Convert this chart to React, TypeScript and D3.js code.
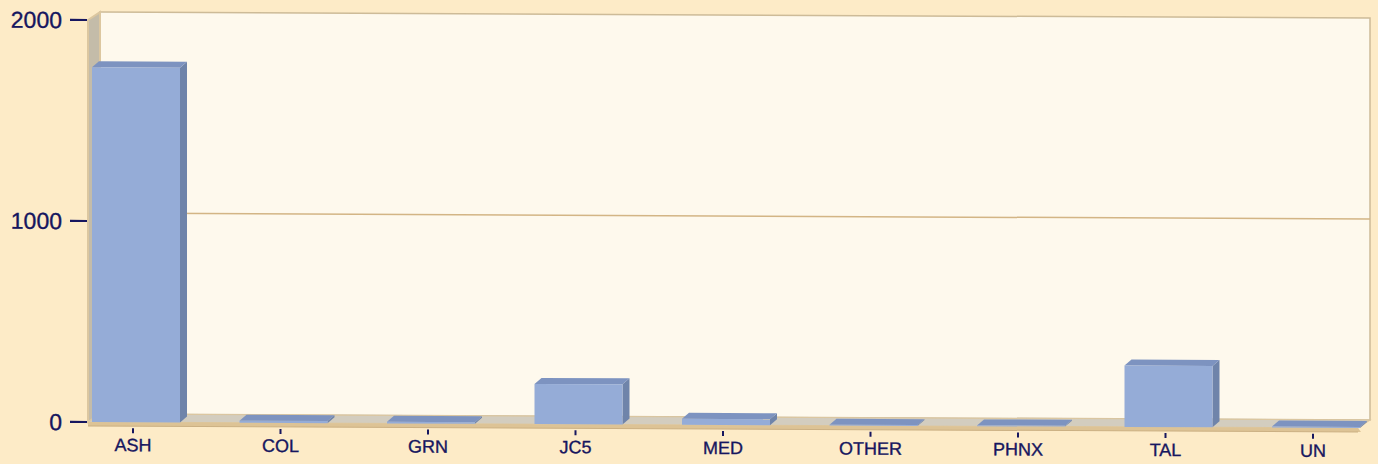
import React from 'react';
import * as d3 from 'd3';

const categories = ['ASH', 'COL', 'GRN', 'JC5', 'MED', 'OTHER', 'PHNX', 'TAL', 'UN'];
const values = [1765, 10, 8, 200, 30, 4, 4, 305, 5];
const yTicks = [0, 1000, 2000];
const gridValues = [1000];

const W = 1378;
const H = 464;

const App = () => {
  // plot box (front plane) and depth offsets
  const left = 88;
  const right = 1358;
  const top = 20;
  const base = 422;
  const wallDx = 12;
  const wallDy = 8;
  const barDx = 7;
  const barDy = 6;
  const barW = 88;
  const ink = '#16165f';

  const x = d3.scalePoint<string>().domain(categories).range([133, 1313]);
  const y = d3.scaleLinear().domain([0, 2000]).range([base, top]);

  const pts = (p: number[][]) => p.map(d => d.join(',')).join(' ');

  // slight tilt of the whole picture
  const tilt = `translate(${left},${base}) skewY(0.27) translate(${-left},${-base})`;

  return (
    <svg width={W} height={H} style={{ position: 'absolute', left: 0, top: 0, fontFamily: 'Liberation Sans, Arial, sans-serif' }}>
      <rect width={W} height={H} fill="#fdebc7" />
      <g transform={tilt}>
        {/* back wall */}
        <rect x={left + wallDx} y={top - wallDy} width={right - left} height={base - top}
          fill="#fef9ed" stroke="#cdbb98" strokeWidth={1.5} />
        {/* left side wall */}
        <polygon points={pts([[left, top], [left + wallDx, top - wallDy], [left + wallDx, base - wallDy], [left, base]])}
          fill="#c4bca9" stroke="#dcc7a0" strokeWidth={2} />
        {/* gridlines on back wall */}
        {gridValues.map(v => (
          <line key={v} x1={left + wallDx} x2={right + wallDx} y1={y(v) - wallDy} y2={y(v) - wallDy}
            stroke="#d3b585" strokeWidth={1.5} />
        ))}
        {/* floor */}
        <polygon points={pts([[left, base], [left + wallDx, base - wallDy], [right + wallDx, base - wallDy], [right, base]])}
          fill="#d3cdbf" stroke="#dcc7a0" strokeWidth={1} />
        <polygon points={pts([[left, base], [right, base], [right + 3, base + 4], [left, base + 4]])}
          fill="#ddc395" />
        <line x1={left} x2={right} y1={base + 4} y2={base + 4} stroke="#cbb083" strokeWidth={1} />
        {/* bars */}
        {categories.map((c, i) => {
          const x0 = (x(c) as number) - barW / 2 + 3;
          const yt = y(values[i]);
          const yb = base;
          return (
            <g key={c}>
              <polygon points={pts([[x0 + barW, yt], [x0 + barW + barDx, yt - barDy], [x0 + barW + barDx, yb - barDy], [x0 + barW, yb]])}
                fill="#6f84aa" />
              <polygon points={pts([[x0, yt], [x0 + barDx, yt - barDy], [x0 + barW + barDx, yt - barDy], [x0 + barW, yt]])}
                fill="#7d93c0" />
              <rect x={x0} y={yt} width={barW} height={yb - yt} fill="#95acd7" />
            </g>
          );
        })}
        {/* x ticks and labels */}
        {categories.map(c => (
          <g key={c} transform={`translate(${x(c)},0)`}>
            <line y1={base + 6} y2={base + 11} stroke={ink} strokeWidth={2} />
            <text y={base + 29} textAnchor="middle" fontSize={18} fill={ink} stroke={ink} strokeWidth={0.35}>{c}</text>
          </g>
        ))}
        {/* y ticks and labels */}
        {yTicks.map(v => (
          <g key={v} transform={`translate(0,${y(v)})`}>
            <line x1={70} x2={87} stroke={ink} strokeWidth={2.2} />
            <text x={62} dy="0.35em" textAnchor="end" fontSize={23} fill={ink} stroke={ink} strokeWidth={0.35}>{v}</text>
          </g>
        ))}
      </g>
    </svg>
  );
};

export default App;
